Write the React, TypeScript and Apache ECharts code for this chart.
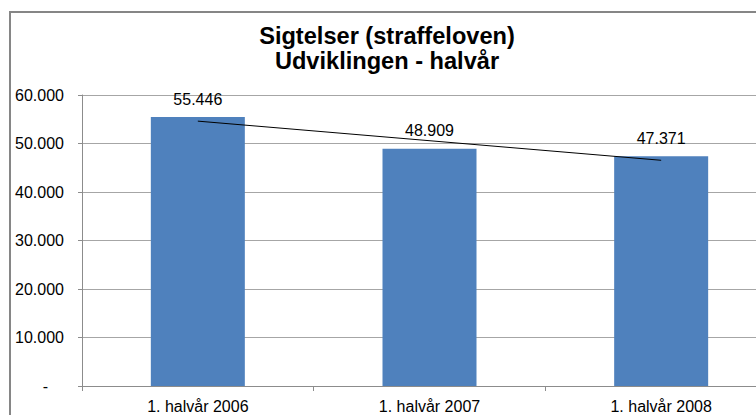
import React, { useEffect, useRef } from "react";
import * as echarts from "echarts";

const categories = ["1. halvår 2006", "1. halvår 2007", "1. halvår 2008"];
const sigtelser = [55446, 48909, 47371];
// Trend line end points (linear trend, first to last half-year)
const trendValues: (number | null)[] = [54613, null, 46538];
const titleLines = ["Sigtelser (straffeloven)", "Udviklingen - halvår"];

const fmt = (v: number) => {
  const s = Math.round(v).toString();
  return s.replace(/\B(?=(\d{3})+(?!\d))/g, ".");
};

export default function App() {
  const ref = useRef<HTMLDivElement>(null);
  useEffect(() => {
    document.body.style.margin = "0";
    const chart = echarts.init(ref.current!, null, { renderer: "svg" });
    const font = "'Liberation Sans', Arial, sans-serif";
    chart.setOption({
      animation: false,
      backgroundColor: "#ffffff",
      textStyle: { fontFamily: font },
      graphic: [
        {
          type: "rect",
          shape: { x: 10, y: 12, width: 820, height: 500 },
          style: { fill: "none", stroke: "#868686", lineWidth: 2 },
          silent: true,
          z: -1,
        },
        {
          type: "text",
          x: 387,
          y: 36,
          style: {
            text: titleLines[0],
            font: `bold 23.6px ${font}`,
            fill: "#000",
            textAlign: "center",
            textVerticalAlign: "middle",
          },
        },
        {
          type: "text",
          x: 387,
          y: 61,
          style: {
            text: titleLines[1],
            font: `bold 23.6px ${font}`,
            fill: "#000",
            textAlign: "center",
            textVerticalAlign: "middle",
          },
        },
      ],
      grid: { left: 82, top: 95, bottom: 29, right: 0, containLabel: false },
      xAxis: {
        type: "category",
        data: categories,
        axisLine: { lineStyle: { color: "#8c8c8c", width: 1 } },
        axisTick: { show: true, length: 5, lineStyle: { color: "#8c8c8c" } },
        axisLabel: { color: "#000", fontSize: 16, margin: 12, fontFamily: font },
      },
      yAxis: {
        type: "value",
        min: 0,
        max: 60000,
        interval: 10000,
        axisLine: { show: true, lineStyle: { color: "#8c8c8c", width: 1 } },
        axisTick: { show: true, length: 4, lineStyle: { color: "#8c8c8c" } },
        splitLine: { lineStyle: { color: "#a6a6a6", width: 1 } },
        axisLabel: {
          color: "#000",
          fontSize: 16,
          margin: 18,
          fontFamily: font,
          formatter: (v: number) => (v === 0 ? "{d|-}" : fmt(v)),
          rich: { d: { fontSize: 16, padding: [0, 16, 0, 0], color: "#000", fontFamily: font } },
        },
      },
      series: [
        {
          type: "bar",
          data: sigtelser,
          barWidth: 94,
          itemStyle: { color: "#4F81BD" },
          label: {
            show: true,
            position: "top",
            distance: 10,
            color: "#000",
            fontSize: 16,
            fontFamily: font,
            formatter: (p: any) => fmt(p.value),
          },
          z: 2,
        },
        {
          type: "line",
          data: trendValues,
          connectNulls: true,
          symbol: "none",
          lineStyle: { color: "#000", width: 1 },
          z: 3,
        },
      ],
    });
    return () => chart.dispose();
  }, []);
  return (
    <div
      style={{ position: "fixed", left: 0, top: 0, width: 756, height: 415, overflow: "hidden" }}
    >
      <div ref={ref} style={{ width: 777, height: 415 }} />
    </div>
  );
}
